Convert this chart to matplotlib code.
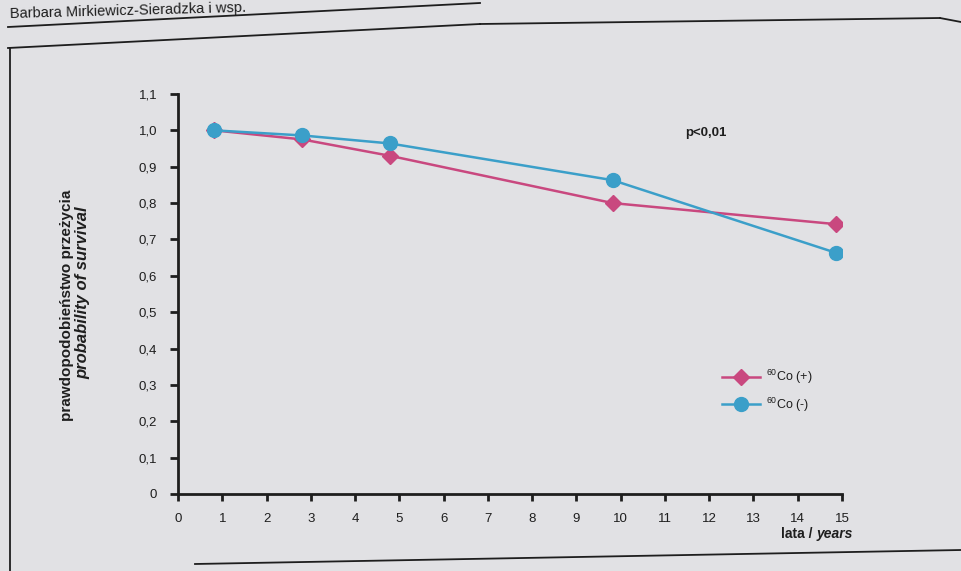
import matplotlib
matplotlib.use("Agg")
import matplotlib.pyplot as plt
from matplotlib.lines import Line2D

plt.rcParams['font.family'] = ['Liberation Sans', 'DejaVu Sans']
plt.rcParams['mathtext.fontset'] = 'custom'
plt.rcParams['mathtext.rm'] = 'Liberation Sans'
plt.rcParams['mathtext.it'] = 'Liberation Sans:italic'

# ---- data ----
years = [0.82, 2.81, 4.79, 9.82, 14.87]
co_plus = [1.00, 0.975, 0.93, 0.80, 0.742]
co_minus = [1.00, 0.986, 0.964, 0.863, 0.663]
series_labels = [r'$\mathregular{^{60}}$Co (+)', r'$\mathregular{^{60}}$Co (-)']
x_ticks = list(range(0, 16))
y_ticks = [0, 0.1, 0.2, 0.3, 0.4, 0.5, 0.6, 0.7, 0.8, 0.9, 1.0, 1.1]
y_tick_labels = ['0', '0,1', '0,2', '0,3', '0,4', '0,5', '0,6', '0,7', '0,8', '0,9', '1,0', '1,1']

W, H = 961, 571
bg = '#e1e1e4'
ink = '#1e1e1e'
pink = '#c9487f'
blue = '#3b9fc9'

fig = plt.figure(figsize=(W / 100, H / 100), dpi=100, facecolor=bg)

def px(x, y):
    return x / W, 1 - y / H

# decorative page elements
fig.text(*px(10, 11), 'Barbara Mirkiewicz-Sieradzka i wsp.', fontsize=10.5,
         color=ink, ha='left', va='center', rotation=1.5)
for (x0, y0), (x1, y1) in [((8, 27), (480, 3)),
                           ((8, 48), (480, 24)), ((480, 24), (940, 18)), ((940, 18), (961, 22)),
                           ((10, 48), (10, 571)),
                           ((195, 564), (961, 550))]:
    a, b = px(x0, y0)
    c, d = px(x1, y1)
    fig.add_artist(Line2D([a, c], [b, d], color=ink, lw=1.3))

# axes
left, right, top, bottom = 178, 842, 94, 494
ax = fig.add_axes([left / W, 1 - bottom / H, (right - left) / W, (bottom - top) / H])
ax.set_facecolor('none')
ax.set_xlim(0, 15)
ax.set_ylim(0, 1.1)
for s in ['top', 'right']:
    ax.spines[s].set_visible(False)
for s in ['left', 'bottom']:
    ax.spines[s].set_linewidth(2.0)
    ax.spines[s].set_color(ink)
    ax.spines[s].set_capstyle('projecting')

ax.set_xticks(x_ticks)
ax.set_xticklabels([str(t) for t in x_ticks])
ax.set_yticks(y_ticks)
ax.set_yticklabels(y_tick_labels)
ax.tick_params(axis='y', direction='out', length=6, width=2, color=ink,
               labelsize=9.5, labelcolor=ink, pad=9)
ax.tick_params(axis='x', direction='out', length=5, width=2, color=ink,
               labelsize=9.5, labelcolor=ink, pad=9)

ax.plot(years, co_plus, color=pink, lw=1.8, marker='D', markersize=8,
        markerfacecolor=pink, markeredgecolor=pink, label=series_labels[0], zorder=3)
ax.plot(years, co_minus, color=blue, lw=1.8, marker='o', markersize=10,
        markerfacecolor=blue, markeredgecolor=blue, label=series_labels[1], zorder=4)

leg = ax.legend(loc='upper left', bbox_to_anchor=(0.82, 0.315), frameon=False,
                fontsize=9, handlelength=3.0, handletextpad=0.5, labelspacing=0.75,
                borderaxespad=0, borderpad=0)
for t in leg.get_texts():
    t.set_color(ink)

ax.text(*((685 - left) / (right - left), (bottom - 133) / (bottom - top)), 'p<0,01',
        transform=ax.transAxes, fontsize=9.5, fontweight='bold', color=ink,
        ha='left', va='center')

fig.text(*px(67, 305), 'prawdopodobieństwo przeżycia', rotation=90, fontsize=11,
         fontweight='bold', color=ink, ha='center', va='center')
fig.text(*px(83, 293), 'probability of survival', rotation=90, fontsize=12,
         fontweight='bold', fontstyle='italic', color=ink, ha='center', va='center')

# x axis title: "lata / " bold + "years" bold italic, right edge at x=853
renderer = fig.canvas.get_renderer()
t_years = fig.text(*px(853, 534), 'years', fontsize=10, fontweight='bold',
                   fontstyle='italic', color=ink, ha='right', va='center')
bb = t_years.get_window_extent(renderer=renderer)
fig.text(bb.x0 / W, 1 - 534 / H, 'lata / ', fontsize=10, fontweight='bold', color=ink,
         ha='right', va='center')

fig.savefig('out.png', dpi=100, facecolor=bg)
